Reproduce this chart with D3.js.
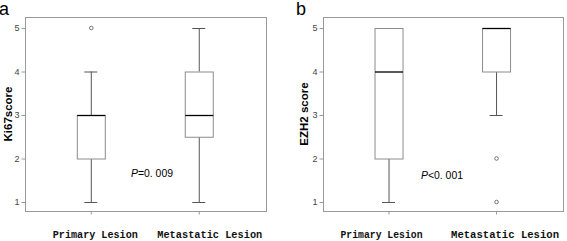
<!DOCTYPE html>
<html lang="en">
<head>
<meta charset="UTF-8"/>
<title>Box plots</title>
<script src="https://d3js.org/d3.v7.min.js"></script>
<style>
  body { margin: 0; background: #fff; }
  svg { display: block; }
</style>
</head>
<body>
<script>
var w = 567;
var h = 241;

// groups on the x axis
var groups = ["Primary Lesion", "Metastatic Lesion"];
var yTicks = [1, 2, 3, 4, 5];

// panel a: Ki67 score  [whiskerLow, q1, median, q3, whiskerHigh]
var ki67Stats = [[1, 2, 3, 3, 4], [1, 2.5, 3, 4, 5]];
var ki67Outliers = [[5], []];

// panel b: EZH2 score
var ezh2Stats = [[1, 2, 4, 5, 5], [3, 4, 5, 5, 5]];
var ezh2Outliers = [[], [2, 1]];

var svg = d3.select("body").append("svg")
    .attr("width", w)
    .attr("height", h);

function drawPanel(opt) {
    var g = svg.append("g");

    var x = d3.scalePoint()
        .domain(groups)
        .range([opt.left + (opt.right - opt.left) * 0.273, opt.left + (opt.right - opt.left) * 0.721]);

    var y = d3.scaleLinear()
        .domain([1, 5])
        .range([202, 28]);

    // frame
    g.append("rect")
        .attr("x", opt.left + 0.5)
        .attr("y", 17.5)
        .attr("width", opt.right - opt.left)
        .attr("height", 194)
        .attr("fill", "none")
        .attr("stroke", "#9a9a9a");

    // y axis ticks
    var yAxis = d3.axisLeft(y)
        .tickValues(yTicks)
        .tickSize(4)
        .tickPadding(2)
        .tickFormat(d3.format("d"));
    var ya = g.append("g")
        .attr("transform", "translate(" + (opt.left + 0.5) + ",0)")
        .call(yAxis);
    ya.select(".domain").remove();
    ya.selectAll("line").attr("stroke", "#9a9a9a");
    ya.selectAll("text")
        .attr("fill", "#444")
        .style("font-family", "Liberation Sans, Arial, sans-serif")
        .style("font-size", "9px");

    // x axis ticks
    var xa = g.append("g")
        .attr("transform", "translate(0," + 211.5 + ")")
        .call(d3.axisBottom(x).tickSize(3).tickFormat(""));
    xa.select(".domain").remove();
    xa.selectAll("line").attr("stroke", "#9a9a9a");

    // group labels
    g.selectAll(".glabel")
        .data(groups)
        .enter()
        .append("text")
        .attr("class", "glabel")
        .attr("x", function(d, i) { return x(d) + opt.labelShift[i]; })
        .attr("y", 238)
        .attr("text-anchor", "middle")
        .attr("textLength", function(d, i) { return opt.labelLen[i]; })
        .attr("lengthAdjust", "spacingAndGlyphs")
        .style("font-family", "Liberation Mono, monospace")
        .style("font-weight", "bold")
        .style("font-size", "10.5px")
        .attr("fill", "#111")
        .text(function(d) { return d; });

    var bw = 28;
    var cw = 13;

    var boxes = g.selectAll(".box")
        .data(opt.stats)
        .enter()
        .append("g")
        .attr("transform", function(d, i) { return "translate(" + x(groups[i]) + ",0)"; });

    // whiskers
    boxes.append("line")
        .attr("x1", 0.5).attr("x2", 0.5)
        .attr("y1", function(d) { return y(d[0]); })
        .attr("y2", function(d) { return y(d[1]); })
        .attr("stroke", "#555");
    boxes.append("line")
        .attr("x1", 0.5).attr("x2", 0.5)
        .attr("y1", function(d) { return y(d[3]); })
        .attr("y2", function(d) { return y(d[4]); })
        .attr("stroke", "#555");
    // caps
    boxes.filter(function(d) { return d[0] < d[1]; })
        .append("line")
        .attr("x1", -cw / 2).attr("x2", cw / 2)
        .attr("y1", function(d) { return y(d[0]) + 0.5; })
        .attr("y2", function(d) { return y(d[0]) + 0.5; })
        .attr("stroke", "#555");
    boxes.filter(function(d) { return d[4] > d[3]; })
        .append("line")
        .attr("x1", -cw / 2).attr("x2", cw / 2)
        .attr("y1", function(d) { return y(d[4]) + 0.5; })
        .attr("y2", function(d) { return y(d[4]) + 0.5; })
        .attr("stroke", "#555");

    // box
    boxes.append("rect")
        .attr("x", -bw / 2 + 0.5)
        .attr("y", function(d) { return y(d[3]) + 0.5; })
        .attr("width", bw)
        .attr("height", function(d) { return y(d[1]) - y(d[3]); })
        .attr("fill", "#fff")
        .attr("stroke", "#8c8c8c");

    // median
    boxes.append("line")
        .attr("x1", -bw / 2 + 0.5).attr("x2", bw / 2 + 0.5)
        .attr("y1", function(d) { return y(d[2]) + 0.5; })
        .attr("y2", function(d) { return y(d[2]) + 0.5; })
        .attr("stroke", "#000")
        .attr("stroke-width", 1.3);

    // outliers
    boxes.each(function(d, i) {
        d3.select(this).selectAll("circle")
            .data(opt.outliers[i])
            .enter()
            .append("circle")
            .attr("cx", 0.5)
            .attr("cy", function(v) { return y(v); })
            .attr("r", 1.8)
            .attr("fill", "none")
            .attr("stroke", "#555")
            .attr("stroke-width", 0.8);
    });

    // y title
    g.append("text")
        .attr("transform", "translate(" + opt.titleX + "," + 114 + ") rotate(-90)")
        .attr("text-anchor", "middle")
        .style("font-family", "Liberation Sans, Arial, sans-serif")
        .style("font-weight", "bold")
        .style("font-size", "11.5px")
        .attr("fill", "#000")
        .text(opt.title);

    // panel letter
    g.append("text")
        .attr("x", opt.letterX)
        .attr("y", 15)
        .style("font-family", "Liberation Sans, Arial, sans-serif")
        .style("font-size", "18px")
        .attr("fill", "#000")
        .text(opt.letter);

    // p value
    var p = g.append("text")
        .attr("x", opt.pX)
        .attr("y", opt.pY)
        .attr("textLength", 42)
        .attr("lengthAdjust", "spacingAndGlyphs")
        .style("font-family", "Liberation Sans, Arial, sans-serif")
        .style("font-size", "10px")
        .attr("fill", "#000");
    p.append("tspan").style("font-style", "italic").text("P");
    p.append("tspan").text(opt.pText);
}

drawPanel({
    left: 25, right: 266,
    stats: ki67Stats, outliers: ki67Outliers,
    labelShift: [4.5, 11], labelLen: [85, 105],
    title: "Ki67score", titleX: 12,
    letter: "a", letterX: -1,
    pX: 131, pY: 177, pText: "=0. 009"
});

drawPanel({
    left: 323, right: 563,
    stats: ezh2Stats, outliers: ezh2Outliers,
    labelShift: [-7, 9], labelLen: [82, 108],
    title: "EZH2 score", titleX: 308,
    letter: "b", letterX: 296,
    pX: 421, pY: 179, pText: "<0. 001"
});
</script>
</body>
</html>
